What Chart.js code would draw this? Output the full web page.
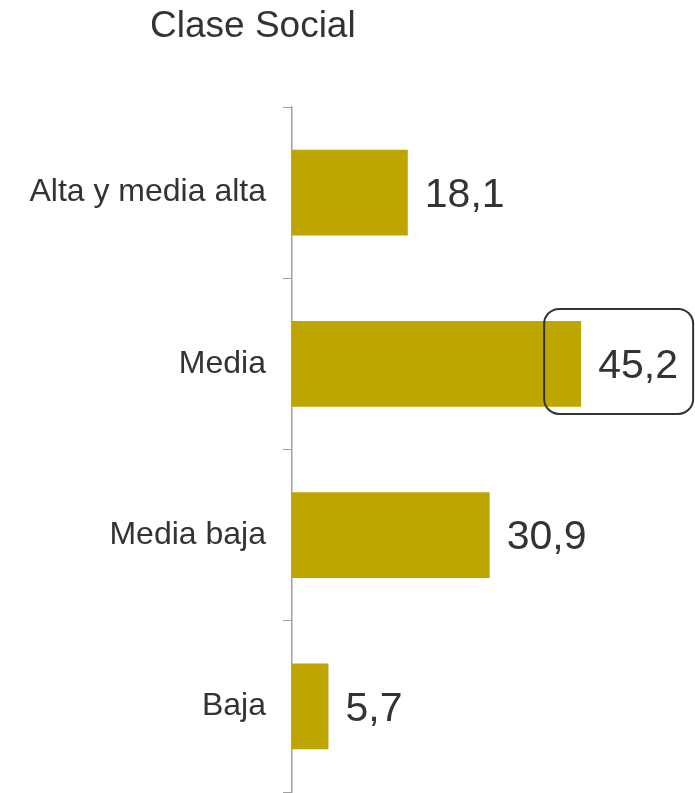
<!DOCTYPE html>
<html>
<head>
<meta charset="utf-8">
<script src="https://cdn.jsdelivr.net/npm/chart.js@4"></script>
<style>
  html, body { margin: 0; padding: 0; background: #fff; }
  #wrap { width: 695px; height: 793px; }
</style>
</head>
<body>
<div id="wrap"><canvas id="chart" width="695" height="793"></canvas></div>
<script>
/* Clase Social — barras horizontales */

const titulo = 'Clase Social';
const categorias = ['Alta y media alta', 'Media', 'Media baja', 'Baja'];
const valores = [18.1, 45.2, 30.9, 5.7];
const destacado = 1; // Media, la del recuadro

const textColor = '#333333';
const barColor = '#BFA500';
const fontFam = '"Liberation Sans", Arial, sans-serif';

// título desplazado a la izquierda, como en el original
const tituloPlugin = {
    id: 'tituloPlugin',
    afterDraw(chart) {
        const ctx = chart.ctx;
        ctx.save();
        ctx.font = '37px ' + fontFam;
        ctx.fillStyle = textColor;
        ctx.textAlign = 'left';
        ctx.textBaseline = 'alphabetic';
        ctx.fillText(titulo, 150, 37);
        ctx.restore();
    }
};

// etiquetas de valor a la derecha de cada barra, con coma decimal
const valueLabels = {
    id: 'valueLabels',
    afterDatasetsDraw(chart) {
        const ctx = chart.ctx;
        const meta = chart.getDatasetMeta(0);
        ctx.save();
        ctx.font = '41px ' + fontFam;
        ctx.fillStyle = textColor;
        ctx.textAlign = 'left';
        ctx.textBaseline = 'middle';
        meta.data.forEach((bar, i) => {
            const txt = valores[i].toFixed(1).replace('.', ',');
            ctx.fillText(txt, bar.x + 17, bar.y + 3);
        });

        // recuadro redondeado sobre el valor destacado
        const b = meta.data[destacado];
        ctx.strokeStyle = textColor;
        ctx.lineWidth = 2;
        ctx.beginPath();
        ctx.roundRect(b.x - 37, b.y - 55, 149, 105, 15);
        ctx.stroke();
        ctx.restore();
    }
};

new Chart(document.getElementById('chart').getContext('2d'), {
    type: 'bar',
    data: {
        labels: categorias,
        datasets: [{
            data: valores,
            backgroundColor: barColor,
            borderWidth: 0,
            barPercentage: 0.5,
            categoryPercentage: 1,
        }]
    },
    options: {
        indexAxis: 'y',
        responsive: false,
        animation: false,
        layout: { padding: { left: 0, right: 0, top: 107, bottom: 1 } },
        scales: {
            x: { display: false, min: 0, max: 63 },
            y: {
                afterFit: scale => {
                    scale.width = 292;
                    scale.paddingTop = 0;
                    scale.paddingBottom = 0;
                },
                border: { display: true, color: '#A0A0A0', width: 1.5 },
                grid: { drawOnChartArea: false, color: '#A0A0A0', tickLength: 9, offset: true },
                ticks: {
                    color: textColor,
                    padding: 17,
                    font: { size: 32, family: fontFam }
                }
            }
        },
        plugins: {
            legend: { display: false },
            tooltip: { enabled: false },
            title: { display: false }
        }
    },
    plugins: [valueLabels, tituloPlugin]
});
</script>
</body>
</html>
